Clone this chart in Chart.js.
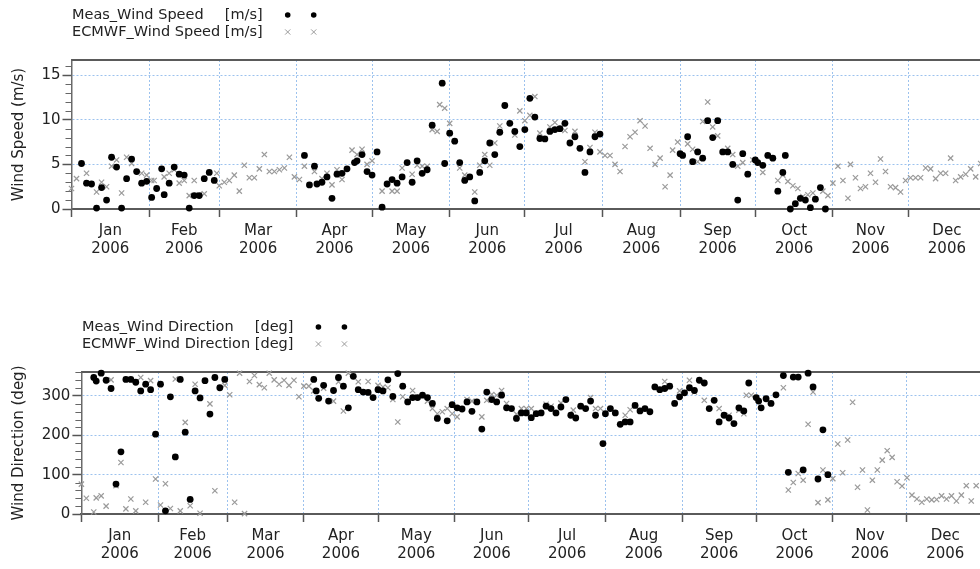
<!DOCTYPE html>
<html>
<head>
<meta charset="utf-8">
<script src="https://cdn.jsdelivr.net/npm/chart.js@4.4.1/dist/chart.umd.min.js"></script>
<style>
html,body{margin:0;padding:0;background:#fff;width:980px;height:569px;overflow:hidden;}
#c1{position:absolute;left:0;top:0;}
#c2{position:absolute;left:0;top:300px;}
</style>
</head>
<body>
<canvas id="c1" width="1000" height="285"></canvas>
<canvas id="c2" width="1000" height="269"></canvas>
<script>
// ---------- categories / ticks ----------
const monthNames = ['Jan','Feb','Mar','Apr','May','Jun','Jul','Aug','Sep','Oct','Nov','Dec'];
const yearLabel = '2006';
const monthStarts = [0,31,59,90,120,151,181,212,243,273,304,334,365]; // day of year 2006
const speedTicks = [0,5,10,15];
const speedMinorStep = 1;
const dirTicks = [0,100,200,300];
const dirMinorStep = 20;

// ---------- series: wind speed (day of year, m/s) ----------
const measSpeedDay = [4,6,8,10,12,14,16,18,20,22,24,26,28,30,32,34,36,37,39,41,43,45,47,49,51,53,55,57,
  93,95,97,98,100,102,104,106,108,110,113,114,116,118,120,122,124,126,128,130,132,134,136,138,140,142,144,148,149,
  151,153,155,157,159,161,163,165,167,169,171,173,175,177,179,181,183,185,187,189,191,193,195,197,199,201,203,205,207,209,211,
  243,244,246,248,250,252,254,256,258,260,262,264,266,268,270,273,274,276,278,280,282,284,285,287,289,291,293,295,297,299,301];
const measSpeed = [5.1,2.9,2.8,0.1,2.4,1.0,5.8,4.7,0.1,3.4,5.6,4.2,2.9,3.1,1.3,2.3,4.5,1.6,2.9,4.7,3.9,3.8,0.1,1.5,1.5,3.4,4.1,3.2,
  6.0,2.7,4.8,2.8,3.0,3.6,1.2,3.9,4.0,4.5,5.2,5.4,6.1,4.2,3.8,6.4,0.2,2.8,3.3,2.9,3.6,5.2,3.0,5.4,4.0,4.4,9.4,14.1,5.1,
  8.5,7.6,5.2,3.2,3.6,0.9,4.1,5.4,7.4,6.1,8.6,11.6,9.6,8.7,7.0,8.9,12.4,10.3,7.9,7.85,8.7,8.9,9.0,9.6,7.4,8.1,6.8,4.1,6.4,8.1,8.4,
  6.2,6.0,8.1,5.3,6.4,5.7,9.9,8.0,9.9,6.4,6.4,5.0,1.0,6.2,3.9,5.5,5.2,4.9,6.0,5.7,2.0,4.1,6.0,0.0,0.6,1.2,1.0,0.15,1.1,2.4,0.0];

const ecmwfSpeedDay = [0,2,6,10,12,14,16,18,20,22,24,28,30,32,33,37,39,41,43,45,47,49,51,53,58,59,61,63,65,67,69,71,73,75,77,79,81,83,85,87,89,91,93,97,
  100,102,104,106,108,112,114,116,118,120,124,128,130,132,136,138,140,142,144,146,147,149,151,155,157,161,163,165,167,169,171,177,179,181,183,185,187,191,193,195,197,201,
  205,207,209,211,213,215,217,219,221,223,225,227,229,231,233,235,237,239,240,242,246,248,250,252,254,256,258,262,264,266,268,272,276,282,284,286,288,290,292,294,296,300,302,
  304,306,308,310,311,313,315,317,319,321,323,325,327,329,331,333,335,337,339,341,343,345,347,349,351,353,355,357,359,361,363];
const ecmwfSpeed = [2.3,3.4,4.0,1.9,3.0,2.5,4.8,5.5,1.8,5.8,5.1,4.0,3.8,3.2,3.2,3.6,4.0,4.4,2.9,3.2,1.5,3.2,1.6,1.7,4.0,2.6,3.0,3.2,3.8,2.0,4.9,3.5,3.5,4.5,6.1,4.2,4.2,4.4,4.6,5.8,3.6,3.3,4.8,4.2,
  3.4,4.0,2.7,4.4,3.3,6.6,6.1,6.7,5.0,5.4,2.0,2.0,2.0,4.6,3.9,4.9,4.8,4.8,8.9,8.7,11.7,11.3,9.6,4.6,3.8,1.9,4.9,6.1,4.9,7.4,9.3,8.3,11.0,9.9,10.5,12.6,8.5,9.2,9.7,9.0,8.8,8.7,
  5.3,6.9,8.6,6.4,6.0,6.0,5.0,4.2,7.0,8.1,8.6,9.9,9.3,6.8,5.0,5.7,2.5,3.8,6.6,7.5,7.3,6.7,5.3,9.8,12.0,9.2,8.2,6.8,6.1,4.8,5.2,5.5,4.1,3.2,3.8,3.1,2.6,2.3,1.4,1.6,1.8,2.0,1.5,
  2.9,4.8,3.2,1.2,5.0,3.5,2.3,2.5,4.0,3.0,5.6,4.2,2.5,2.4,1.9,3.2,3.5,3.5,3.5,4.6,4.5,3.4,4.0,4.0,5.7,3.2,3.6,3.9,4.5,3.6,5.1];

// ---------- series: wind direction (day of year, deg) ----------
const measDirDay = [5,6,8,10,12,14,16,18,20,22,24,26,28,30,32,34,36,38,40,42,44,46,48,50,52,54,56,58,
  94,95,96,98,100,102,104,106,108,110,112,114,116,118,120,122,124,126,128,130,132,134,136,138,140,142,144,148,150,152,154,156,158,160,162,164,166,168,170,172,174,176,178,180,
  182,184,186,188,190,192,194,196,198,200,202,204,206,208,211,212,214,216,218,220,222,224,226,228,230,232,234,236,238,240,242,244,246,248,250,252,254,256,258,260,262,264,266,268,270,
  273,274,275,277,279,281,284,286,288,290,292,294,296,298,300,302];
const measDir = [347,338,358,340,319,76,158,342,342,335,313,330,316,203,330,8,298,145,342,208,37,313,295,339,254,347,321,342,
  342,313,294,327,287,314,347,325,270,350,316,310,309,296,316,313,341,299,357,325,285,296,296,302,296,281,243,237,278,270,267,285,261,285,216,310,291,285,302,270,268,243,257,257,
  245,255,257,274,268,257,272,291,251,244,274,268,287,251,179,255,268,257,228,234,234,276,262,268,260,323,316,319,325,281,298,308,321,314,340,333,268,289,234,251,244,230,270,262,333,
  296,287,270,293,281,303,352,106,348,348,112,358,323,89,214,100];

const ecmwfDirDay = [0,2,5,6,8,10,12,14,16,18,20,22,24,26,28,30,32,34,36,38,40,42,44,46,48,52,54,58,60,62,64,66,68,70,72,74,76,78,80,82,84,86,88,90,92,
  94,98,102,104,106,108,112,116,120,122,124,126,128,130,134,136,140,142,144,146,148,150,152,156,158,162,164,166,168,170,172,176,178,180,182,188,190,194,199,206,208,210,
  220,222,224,236,242,246,248,252,258,262,266,268,269,271,284,286,288,290,292,294,296,298,300,302,304,306,308,310,312,314,316,318,320,322,324,326,328,330,332,334,336,338,340,
  342,344,346,348,350,352,354,356,358,360,362];
const ecmwfDir = [76,40,5,41,46,20,341,72,131,13,38,8,347,30,339,89,23,77,14,343,8,233,21,330,2,280,59,327,303,30,358,1,337,352,329,321,358,341,330,340,327,340,298,325,325,
  313,320,287,336,262,358,336,337,327,323,321,291,234,298,314,298,287,268,255,260,268,255,247,291,287,247,289,304,302,314,281,254,268,268,268,279,274,282,264,296,268,268,
  251,265,276,337,313,340,310,289,268,251,264,255,302,302,321,61,80,103,86,228,310,29,112,36,90,178,105,188,284,68,112,10,86,112,137,161,144,82,71,92,48,38,30,
  38,36,37,46,38,46,33,48,72,33,72];

// ---------- helpers ----------
const FONT = 'DejaVu Sans';
const GRID_BLUE = '#9cc2ee';
const FRAME = '#5a5a5a';
const CROSS = '#9a9a9a';
const pts = (xs, ys) => xs.map((x, i) => ({x: x, y: ys[i]}));

const framePlugin = {
  id: 'frameTop',
  beforeDatasetsDraw(chart) {
    const a = chart.chartArea, ctx = chart.ctx;
    ctx.save();
    ctx.strokeStyle = FRAME; ctx.lineWidth = 2;
    ctx.beginPath(); ctx.moveTo(a.left, a.top); ctx.lineTo(a.right, a.top); ctx.stroke();
    ctx.restore();
  }
};

const minorTickPlugin = {
  id: 'minorTicks',
  beforeDatasetsDraw(chart, args, opts) {
    const s = chart.scales.y, ctx = chart.ctx;
    ctx.save();
    ctx.strokeStyle = '#666'; ctx.lineWidth = 1;
    ctx.beginPath();
    for (let v = s.min; v <= s.max + 1e-9; v += opts.step) {
      if (opts.major.includes(v)) continue;
      const y = Math.round(s.getPixelForValue(v)) + 0.5;
      ctx.moveTo(s.right - 6, y); ctx.lineTo(s.right, y);
    }
    ctx.stroke();
    ctx.restore();
  }
};

const legendPlugin = {
  id: 'textLegend',
  afterDraw(chart, args, opts) {
    const ctx = chart.ctx, a = chart.chartArea;
    const left = a.left + 0.5;
    ctx.save();
    ctx.font = '14.5px "' + FONT + '"';
    ctx.fillStyle = '#222';
    ctx.textBaseline = 'middle';
    const nameW = Math.max(...opts.entries.map(e => ctx.measureText(e.name + ' ').width));
    const unitW = Math.max(...opts.entries.map(e => ctx.measureText(e.unit).width));
    const end = left + nameW + unitW;
    opts.entries.forEach((e, i) => {
      const y = a.top - 45 + i * 17;
      ctx.textAlign = 'left'; ctx.fillText(e.name, left, y);
      ctx.textAlign = 'right'; ctx.fillText(e.unit, end, y);
      [end + 25, end + 51].forEach(x => {
        if (e.style === 'circle') {
          ctx.fillStyle = '#000';
          ctx.beginPath(); ctx.arc(x, y, 2.8, 0, Math.PI * 2); ctx.fill();
          ctx.fillStyle = '#222';
        } else {
          ctx.strokeStyle = CROSS; ctx.lineWidth = 1;
          ctx.beginPath();
          ctx.moveTo(x - 2.6, y - 2.6); ctx.lineTo(x + 2.6, y + 2.6);
          ctx.moveTo(x - 2.6, y + 2.6); ctx.lineTo(x + 2.6, y - 2.6);
          ctx.stroke();
        }
      });
    });
    ctx.restore();
  }
};

function xAxis(h) {
  return {
    type: 'linear', min: monthStarts[0], max: monthStarts[12],
    afterBuildTicks: s => {
      const t = [];
      for (let i = 0; i < 12; i++) {
        t.push({value: monthStarts[i]});
        t.push({value: (monthStarts[i] + monthStarts[i + 1]) / 2});
      }
      t.push({value: monthStarts[12]});
      s.ticks = t;
    },
    ticks: {
      autoSkip: false, maxRotation: 0, minRotation: 0, padding: 5, color: '#222',
      font: {family: FONT, size: 15, lineHeight: 1.22},
      callback: (v, i) => (i % 2 === 1 ? [monthNames[(i - 1) / 2], yearLabel] : '')
    },
    grid: {
      color: c => (c.index % 2 === 0 ? GRID_BLUE : 'rgba(0,0,0,0)'),
      tickColor: c => (c.index % 2 === 0 ? '#555' : 'rgba(0,0,0,0)'),
      tickLength: 8, tickWidth: 1.5, lineWidth: 1, tickBorderDash: []
    },
    border: {display: true, color: FRAME, width: 2, dash: [2, 2]},
    afterFit: s => { s.height = h; }
  };
}

function yAxis(min, max, major, title, w) {
  return {
    type: 'linear', min: min, max: max,
    afterBuildTicks: s => { s.ticks = major.map(v => ({value: v})); },
    ticks: {padding: 2, color: '#222', font: {family: FONT, size: 15}},
    grid: {
      color: c => (c.tick && c.tick.value === min ? 'rgba(0,0,0,0)' : GRID_BLUE),
      tickColor: '#555', tickLength: 9, tickWidth: 1.5, lineWidth: 1, tickBorderDash: []
    },
    border: {display: true, color: '#6a6a6a', width: 1.5, dash: [2, 2]},
    title: {display: true, text: title, color: '#222', font: {family: FONT, size: 15}, padding: {top: 10, bottom: 0}},
    afterFit: s => { s.width = w; }
  };
}

function makeChart(id, cfg) {
  return new Chart(document.getElementById(id), {
    type: 'scatter',
    data: {
      datasets: [
        {label: cfg.measName, data: pts(cfg.measX, cfg.measY), pointStyle: 'circle', pointRadius: 3.4,
         backgroundColor: '#000', borderColor: '#000', borderWidth: 0, clip: false, order: 0},
        {label: cfg.ecName, data: pts(cfg.ecX, cfg.ecY), pointStyle: 'crossRot', pointRadius: 3.7,
         backgroundColor: CROSS, borderColor: CROSS, borderWidth: 1.2, clip: false, order: 1}
      ]
    },
    options: {
      responsive: false, animation: false, devicePixelRatio: 1,
      layout: {padding: {top: cfg.padTop, right: cfg.padRight, left: 0, bottom: 0}},
      plugins: {
        legend: {display: false}, tooltip: {enabled: false},
        minorTicks: {step: cfg.minorStep, major: cfg.major},
        textLegend: {entries: [
          {name: cfg.measName, unit: cfg.unit, style: 'circle'},
          {name: cfg.ecName, unit: cfg.unit, style: 'cross'}
        ]}
      },
      scales: {
        x: xAxis(cfg.xH),
        y: yAxis(cfg.yMin, cfg.yMax, cfg.major, cfg.title, cfg.yW)
      }
    },
    plugins: [framePlugin, minorTickPlugin, legendPlugin]
  });
}

makeChart('c1', {
  measName: 'Meas_Wind Speed', ecName: 'ECMWF_Wind Speed', unit: '[m/s]',
  measX: measSpeedDay, measY: measSpeed, ecX: ecmwfSpeedDay, ecY: ecmwfSpeed,
  title: 'Wind Speed (m/s)', yMin: 0, yMax: 16.7, major: speedTicks, minorStep: speedMinorStep,
  padTop: 60, padRight: 14.3, xH: 76, yW: 71.5
});

makeChart('c2', {
  measName: 'Meas_Wind Direction', ecName: 'ECMWF_Wind Direction', unit: '[deg]',
  measX: measDirDay, measY: measDir, ecX: ecmwfDirDay, ecY: ecmwfDir,
  title: 'Wind Direction (deg)', yMin: 0, yMax: 361, major: dirTicks, minorStep: dirMinorStep,
  padTop: 72, padRight: 16.4, xH: 55, yW: 81.4
});
</script>
</body>
</html>
